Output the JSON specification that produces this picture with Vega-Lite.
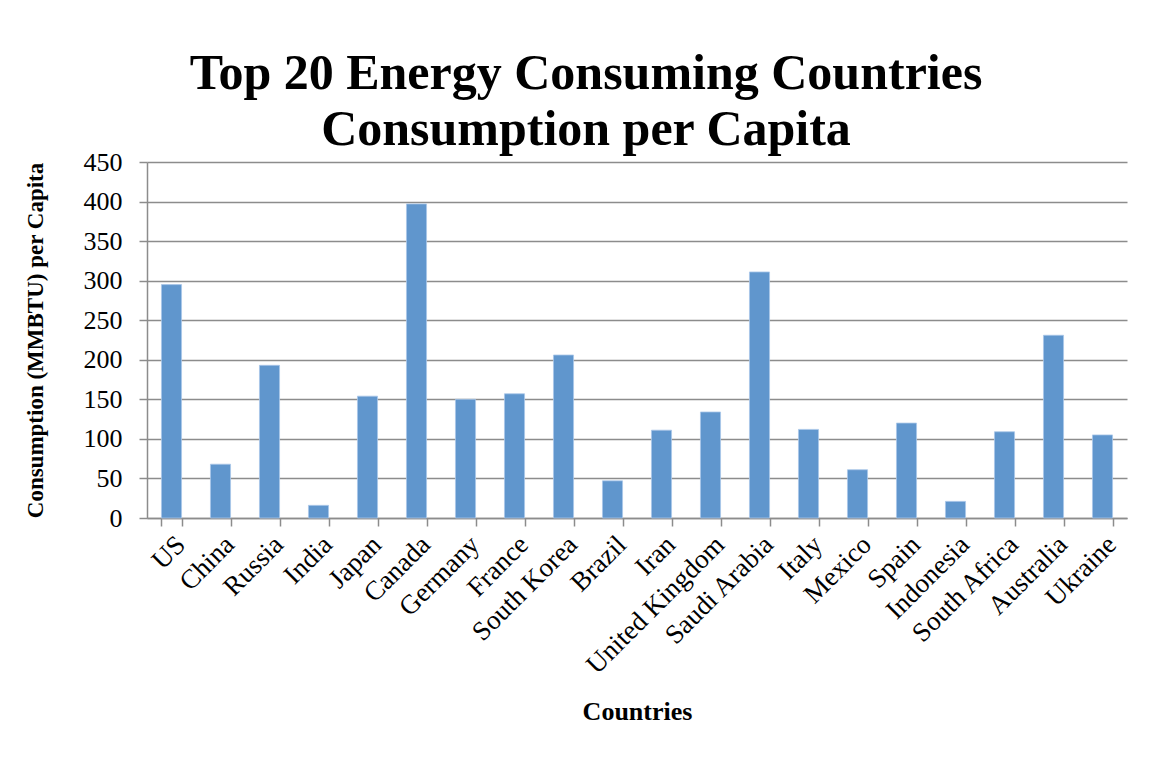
{
  "$schema": "https://vega.github.io/schema/vega-lite/v6.json",
  "width": 980,
  "height": 356,
  "autosize": "none",
  "padding": {"left": 147, "top": 162, "right": 22, "bottom": 257},
  "background": "white",
  "title": {
    "text": ["Top 20 Energy Consuming Countries", "Consumption per Capita"],
    "font": "Liberation Serif",
    "fontSize": 50,
    "fontWeight": "bold",
    "color": "black",
    "anchor": "middle",
    "dx": -51,
    "offset": -6,
    "lineHeight": 56
  },
  "data": {
    "values": [
      {"country": "US", "value": 295},
      {"country": "China", "value": 68},
      {"country": "Russia", "value": 193},
      {"country": "India", "value": 16},
      {"country": "Japan", "value": 154},
      {"country": "Canada", "value": 397},
      {"country": "Germany", "value": 150},
      {"country": "France", "value": 157},
      {"country": "South Korea", "value": 206},
      {"country": "Brazil", "value": 47},
      {"country": "Iran", "value": 111},
      {"country": "United Kingdom", "value": 134},
      {"country": "Saudi Arabia", "value": 311},
      {"country": "Italy", "value": 112},
      {"country": "Mexico", "value": 61},
      {"country": "Spain", "value": 120},
      {"country": "Indonesia", "value": 21},
      {"country": "South Africa", "value": 109},
      {"country": "Australia", "value": 231},
      {"country": "Ukraine", "value": 105}
    ]
  },
  "mark": {"type": "bar", "color": "#6096cd", "stroke": "#a9c7e8", "strokeWidth": 0.8},
  "encoding": {
    "x": {
      "field": "country",
      "type": "nominal",
      "sort": null,
      "scale": {"paddingInner": 0.59, "paddingOuter": 0.295},
      "axis": {
        "title": "Countries",
        "titleFont": "Liberation Serif",
        "titleFontSize": 26,
        "titleFontWeight": "bold",
        "titleColor": "black",
        "titlePadding": 20,
        "labelFont": "Liberation Serif",
        "labelFontSize": 27,
        "labelLimit": 400,
        "labelColor": "black",
        "labelAngle": -45,
        "labelPadding": 5,
        "domainColor": "#8c8c8c",
        "domainWidth": 1.5,
        "ticks": true,
        "tickBand": "extent",
        "tickColor": "#8c8c8c",
        "tickWidth": 1.5,
        "tickSize": 8,
        "grid": false
      }
    },
    "y": {
      "field": "value",
      "type": "quantitative",
      "scale": {"domain": [0, 450]},
      "axis": {
        "title": "Consumption (MMBTU) per Capita",
        "titleFont": "Liberation Serif",
        "titleFontSize": 23,
        "titleFontWeight": "bold",
        "titleColor": "black",
        "titlePadding": 36,
        "labelFont": "Liberation Serif",
        "labelFontSize": 26,
        "labelColor": "black",
        "labelPadding": 17,
        "values": [0, 50, 100, 150, 200, 250, 300, 350, 400, 450],
        "domainColor": "#8c8c8c",
        "domainWidth": 1.5,
        "tickColor": "#8c8c8c",
        "tickWidth": 1.5,
        "tickSize": 8,
        "grid": true,
        "gridColor": "#8c8c8c",
        "gridWidth": 1.5,
        "gridOpacity": 1
      }
    }
  },
  "config": {"view": {"stroke": null}}
}
